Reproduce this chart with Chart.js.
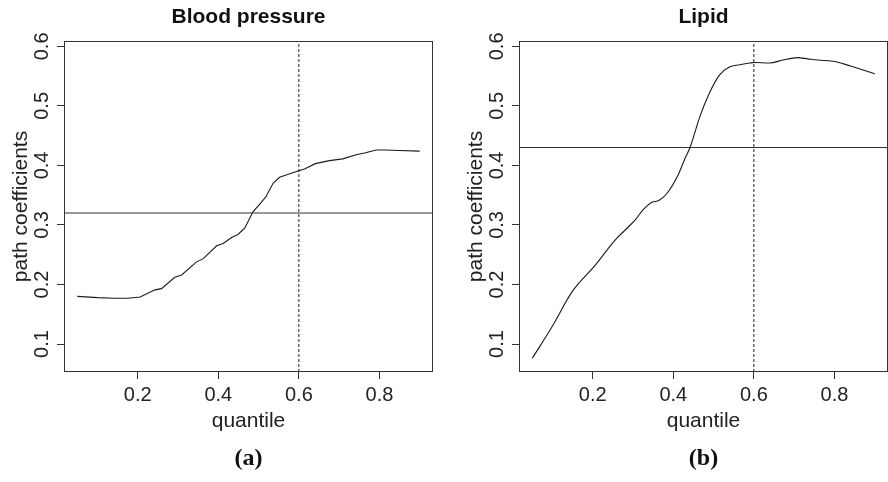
<!DOCTYPE html>
<html>
<head>
<meta charset="utf-8">
<script src="https://cdn.jsdelivr.net/npm/chart.js@4/dist/chart.umd.min.js"></script>
<style>
  html, body { margin: 0; padding: 0; background: #fff; }
  #wrap { position: relative; width: 888px; height: 482px; overflow: hidden; }
  canvas { position: absolute; top: 0; }
  #c1 { left: 0; }
  #c2 { left: 444px; }
</style>
</head>
<body>
<div id="wrap">
  <canvas id="c1" width="444" height="482"></canvas>
  <canvas id="c2" width="444" height="482"></canvas>
</div>
<script>
// ---------- data ----------
const quantileBP = [0.050, 0.100, 0.140, 0.175, 0.206, 0.243, 0.259, 0.292, 0.309, 0.346, 0.362, 0.396, 0.412, 0.433, 0.449, 0.466, 0.486, 0.503, 0.518, 0.536, 0.552, 0.581, 0.600, 0.614, 0.641, 0.676, 0.709, 0.742, 0.763, 0.792, 0.812, 0.849, 0.900];
const coefBP     = [0.180, 0.178, 0.177, 0.177, 0.179, 0.191, 0.193, 0.212, 0.216, 0.238, 0.243, 0.265, 0.269, 0.279, 0.284, 0.295, 0.322, 0.335, 0.347, 0.370, 0.380, 0.387, 0.391, 0.394, 0.403, 0.408, 0.411, 0.418, 0.421, 0.426, 0.426, 0.425, 0.424];

const quantileLipid = [0.050, 0.099, 0.149, 0.207, 0.256, 0.289, 0.306, 0.327, 0.347, 0.364, 0.383, 0.412, 0.428, 0.442, 0.466, 0.490, 0.515, 0.538, 0.565, 0.590, 0.602, 0.639, 0.672, 0.709, 0.734, 0.759, 0.796, 0.821, 0.854, 0.900];
const coefLipid     = [0.076, 0.129, 0.188, 0.233, 0.275, 0.297, 0.309, 0.327, 0.338, 0.341, 0.352, 0.384, 0.410, 0.431, 0.482, 0.522, 0.552, 0.565, 0.569, 0.572, 0.573, 0.572, 0.577, 0.581, 0.579, 0.577, 0.575, 0.571, 0.564, 0.554];

const meanBP = 0.32;      // horizontal reference line, panel (a)
const meanLipid = 0.43;   // horizontal reference line, panel (b)
const cutoffQuantile = 0.6; // dashed vertical line

const xTicks = [0.2, 0.4, 0.6, 0.8];
const xTickLabels = ['0.2', '0.4', '0.6', '0.8'];
const yTicks = [0.1, 0.2, 0.3, 0.4, 0.5, 0.6];
const yTickLabels = ['0.1', '0.2', '0.3', '0.4', '0.5', '0.6'];

const xRange = [0.017, 0.933];
const yRange = [0.053, 0.609];

const panelTitles = ['Blood pressure', 'Lipid'];
const panelTags = ['(a)', '(b)'];

// ---------- chart ----------
const INK = '#222';
const SANS = '"Liberation Sans", Arial, Helvetica, sans-serif';

const boxPlugin = {
  id: 'plotBox',
  afterDraw(chart) {
    const {ctx, chartArea: a} = chart;
    ctx.save();
    ctx.strokeStyle = '#333';
    ctx.lineWidth = 1;
    ctx.strokeRect(Math.round(a.left) + 0.5, Math.round(a.top) + 0.5,
                   Math.round(a.right - a.left) - 1, Math.round(a.bottom - a.top) - 1);
    ctx.restore();
  }
};

function makeChart(canvasId, qs, vals, hval, title, tag, leftPad, smooth) {
  const curve = qs.map((q, i) => ({x: q, y: vals[i]}));
  const hLine = [{x: xRange[0], y: hval}, {x: xRange[1], y: hval}];
  const vLine = [{x: cutoffQuantile, y: yRange[0]}, {x: cutoffQuantile, y: yRange[1]}];
  const curveDs = { data: curve, borderColor: '#1a1a1a', borderWidth: 1.1, pointRadius: 0, tension: 0, fill: false };
  if (smooth) curveDs.cubicInterpolationMode = 'monotone';
  return new Chart(document.getElementById(canvasId), {
    type: 'line',
    data: {
      datasets: [
        curveDs,
        { data: hLine, borderColor: '#333', borderWidth: 1.1, pointRadius: 0, fill: false },
        { data: vLine, borderColor: '#222', borderWidth: 1, borderDash: [3, 2], pointRadius: 0, fill: false }
      ]
    },
    options: {
      responsive: false,
      animation: false,
      devicePixelRatio: 1,
      events: [],
      layout: { padding: { left: leftPad, right: leftPad ? 0 : 11, top: 0, bottom: 0 } },
      plugins: {
        legend: { display: false },
        tooltip: { enabled: false },
        title: {
          display: true, text: title, fullSize: false, color: '#111',
          font: { family: SANS, size: 21, weight: 'bold', lineHeight: 1.2 },
          padding: { top: 4.5, bottom: 11.3 }
        },
        subtitle: {
          display: true, text: tag, position: 'bottom', fullSize: false, color: '#111',
          font: { family: '"Liberation Serif", "Times New Roman", serif', size: 24, weight: 'bold', lineHeight: 1.2 },
          padding: { top: 10, bottom: 9.2 }
        }
      },
      scales: {
        x: {
          type: 'linear', min: xRange[0], max: xRange[1],
          afterBuildTicks: s => { s.ticks = xTicks.map(v => ({value: v})); },
          afterFit: s => { s.height = 62; },
          ticks: {
            color: INK, padding: 4.5, autoSkip: false, maxRotation: 0,
            font: { family: SANS, size: 20, lineHeight: 1.2 },
            callback: (v, i) => xTickLabels[i]
          },
          grid: { drawOnChartArea: false, drawTicks: true, tickLength: 7, color: '#333' },
          border: { display: false },
          title: {
            display: true, text: 'quantile', color: INK,
            font: { family: SANS, size: 21, lineHeight: 1.2 },
            padding: { top: 0, bottom: 0 }
          }
        },
        y: {
          type: 'linear', min: yRange[0], max: yRange[1],
          afterBuildTicks: s => { s.ticks = yTicks.map(v => ({value: v})); },
          afterFit: s => { s.width = 64; },
          ticks: {
            color: INK, padding: 1, autoSkip: false, minRotation: 90, maxRotation: 90,
            crossAlign: 'center',
            font: { family: SANS, size: 20, lineHeight: 1.2 },
            callback: (v, i) => yTickLabels[i]
          },
          grid: { drawOnChartArea: false, drawTicks: true, tickLength: 7, color: '#333' },
          border: { display: false },
          title: {
            display: true, text: 'path coefficients', color: INK,
            font: { family: SANS, size: 21, lineHeight: 1.2 },
            padding: { top: 8.4, bottom: 0 }
          }
        }
      }
    },
    plugins: [boxPlugin]
  });
}

makeChart('c1', quantileBP, coefBP, meanBP, panelTitles[0], panelTags[0], 0, false);
makeChart('c2', quantileLipid, coefLipid, meanLipid, panelTitles[1], panelTags[1], 11, true);
</script>
</body>
</html>
